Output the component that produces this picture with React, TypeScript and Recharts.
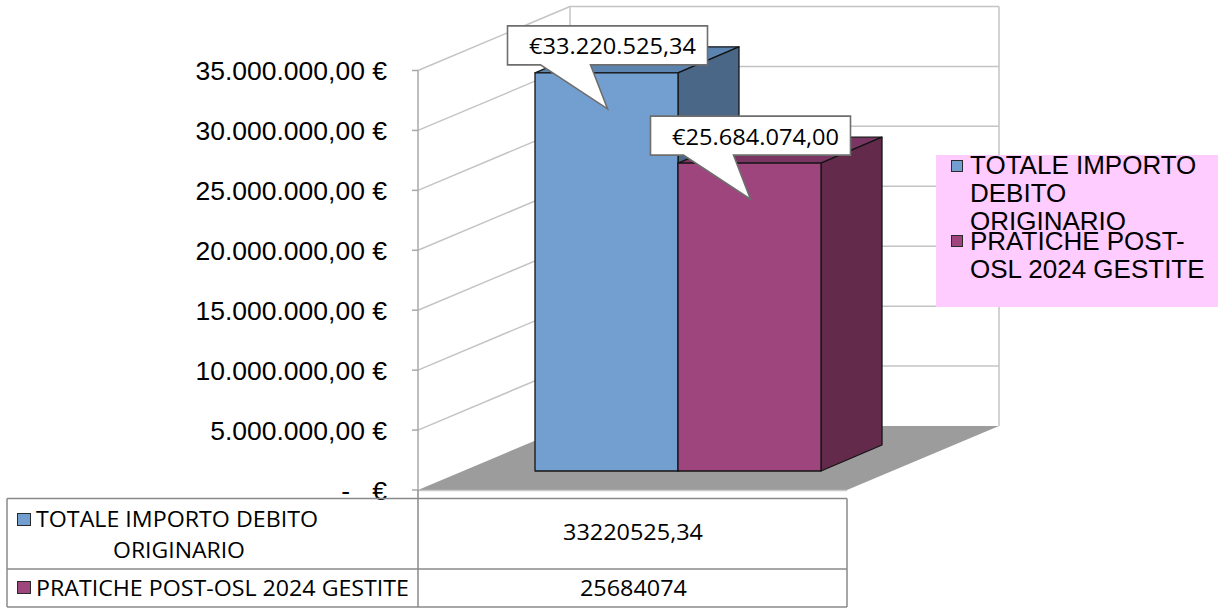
import React from 'react';
import { BarChart, Bar, XAxis, YAxis, CartesianGrid, Legend, LabelList } from 'recharts';

// ---------- data ----------
const CATEGORIES = ['Importi'];
const SERIES_KEYS = ['totale', 'pratiche'];
const SERIES_NAMES = ['TOTALE IMPORTO DEBITO ORIGINARIO', 'PRATICHE POST-OSL 2024 GESTITE'];
const TOTALE_VALUES = [33220525.34];
const PRATICHE_VALUES = [25684074];
const TICK_VALUES = [0, 5000000, 10000000, 15000000, 20000000, 25000000, 30000000, 35000000];
const TICK_LABELS = [
  '-   €',
  '5.000.000,00 €',
  '10.000.000,00 €',
  '15.000.000,00 €',
  '20.000.000,00 €',
  '25.000.000,00 €',
  '30.000.000,00 €',
  '35.000.000,00 €',
];
const TABLE_ROW_LINES = [['TOTALE IMPORTO DEBITO', 'ORIGINARIO'], ['PRATICHE POST-OSL 2024 GESTITE']];

const data = CATEGORIES.map((name, i) => ({
  name,
  totale: TOTALE_VALUES[i],
  pratiche: PRATICHE_VALUES[i],
}));

// ---------- styles / layout ----------
const W = 1218;
const H = 609;
const PLOT_LEFT = 418;
const PLOT_RIGHT = 847;
const PLOT_TOP = 70.5;
const PLOT_BOTTOM = 490;
const YAXIS_W = 218;
const WALL_DX = 152;
const WALL_DY = 64;
const BAR_DX = 45;
const BAR_DY = 19;
const DEPTH_DX = 61;
const DEPTH_DY = 26;
const WALL_STROKE = '#C4C4C4';
const ARIAL = '"Liberation Sans", Arial, sans-serif';
const CALIBRI = '"Open Sans", "Noto Sans", sans-serif';

const SERIES_STYLE = [
  { front: '#729FCF', top: '#5B84B1', side: '#4A6788' },
  { front: '#9E457E', top: '#7B3562', side: '#632A4C' },
];

const fmtIt = (v: number, dec: number) => {
  const [i, d] = v.toFixed(dec).split('.');
  const g = i.replace(/\B(?=(\d{3})+(?!\d))/g, '.');
  return d ? g + ',' + d : g;
};
const fmtTable = (v: number) => String(v).replace('.', ',');

// ---------- walls & floor drawn on the grid lines ----------
const renderWallLine = (props: any) => {
  const { x1, x2, y1, index } = props;
  const top = typeof props.y === 'number' ? props.y : PLOT_TOP;
  const bottom = typeof props.height === 'number' ? top + props.height : PLOT_BOTTOM;
  const bx1 = x1 + WALL_DX;
  const bx2 = x2 + WALL_DX;
  const by = y1 - WALL_DY;
  const isFloor = Math.abs(y1 - bottom) < 0.6;
  const isTop = Math.abs(y1 - top) < 0.6;
  return (
    <g key={`wall-${index}`}>
      {isFloor && (
        <polygon points={`${x1},${y1} ${x2},${y1} ${bx2},${by} ${bx1},${by}`} fill="#9C9C9C" />
      )}
      {isFloor && <line x1={x1} y1={y1 + 0.5} x2={x2} y2={y1 + 0.5} stroke="#C8C8C8" strokeWidth={1.5} />}
      {!isFloor && <line x1={x1} y1={y1} x2={bx1} y2={by} stroke={WALL_STROKE} strokeWidth={1.5} />}
      {!isFloor && <line x1={bx1} y1={by} x2={bx2} y2={by} stroke={WALL_STROKE} strokeWidth={1.5} />}
      {isTop && (
        <>
          <line x1={bx1} y1={by} x2={bx1} y2={bottom - WALL_DY} stroke={WALL_STROKE} strokeWidth={1.5} />
          <line x1={bx2} y1={by} x2={bx2} y2={bottom - WALL_DY} stroke={WALL_STROKE} strokeWidth={1.5} />
        </>
      )}
    </g>
  );
};

// ---------- axis tick ----------
const AxisTick = (props: any) => {
  const { x, y, payload } = props;
  const i = TICK_VALUES.indexOf(payload.value);
  return (
    <text
      x={x}
      y={y + 9.5}
      textAnchor="end"
      fontFamily={ARIAL}
      fontSize={26.5}
      fill="#000"
      style={{ whiteSpace: 'pre' }}
    >
      {TICK_LABELS[i]}
    </text>
  );
};

// ---------- 3D bar ----------
const make3DBar = (s: { front: string; top: string; side: string }) => (props: any) => {
  const { x, y, width, height } = props;
  if (width == null || height == null) return <g />;
  const fx = x + BAR_DX;
  const fy = y - BAR_DY;
  const w = width;
  const h = height;
  const edge = { stroke: '#151515', strokeWidth: 1.3, strokeLinejoin: 'round' as const };
  return (
    <g>
      <polygon
        points={`${fx},${fy} ${fx + w},${fy} ${fx + w + DEPTH_DX},${fy - DEPTH_DY} ${fx + DEPTH_DX},${fy - DEPTH_DY}`}
        fill={s.top}
        {...edge}
      />
      <polygon
        points={`${fx + w},${fy} ${fx + w + DEPTH_DX},${fy - DEPTH_DY} ${fx + w + DEPTH_DX},${fy + h - DEPTH_DY} ${fx + w},${fy + h}`}
        fill={s.side}
        {...edge}
      />
      <rect x={fx} y={fy} width={w} height={h} fill={s.front} {...edge} />
    </g>
  );
};

// ---------- callout ----------
const Callout = (props: any) => {
  const vb = props.viewBox || {};
  const x = typeof props.x === 'number' ? props.x : vb.x;
  const y = typeof props.y === 'number' ? props.y : vb.y;
  const width = typeof props.width === 'number' ? props.width : vb.width;
  const value = Number(props.value);
  if (x == null || y == null || width == null) return null;
  const cx = x + BAR_DX + width / 2;
  const top = y - BAR_DY;
  const L = cx - 99;
  const R = cx + 101;
  const T = top - 47;
  const B = top - 8;
  const d = `M${L},${T} H${R} V${B} H${cx - 16} L${cx + 1},${top + 36} L${cx - 66},${B} H${L} Z`;
  return (
    <g>
      <path d={d} fill="#FFFFFF" stroke="#6E6E6E" strokeWidth={1.6} strokeLinejoin="miter" />
      <text
        x={cx + 6}
        y={B - 10.5}
        textAnchor="middle"
        fontFamily={CALIBRI}
        fontSize={21}
        fill="#000"
        textLength={167}
        lengthAdjust="spacingAndGlyphs"
      >
        {'€' + fmtIt(value, 2)}
      </text>
    </g>
  );
};

// ---------- legend ----------
const LEGEND_TOPS = [-4, 72];
const LegendContent = (props: any) => {
  const payload: any[] = props.payload && props.payload.length ? props.payload : [];
  const items = SERIES_NAMES.map((name, i) => {
    const p = payload.find((e) => e && (e.value === name || e.dataKey === SERIES_KEYS[i]));
    return { name, color: p && p.color ? p.color : SERIES_STYLE[i].front };
  });
  return (
    <div
      style={{
        width: 282,
        height: 152,
        background: '#FFCCFF',
        position: 'relative',
        fontFamily: ARIAL,
        fontSize: 26,
        lineHeight: '28px',
        color: '#000',
      }}
    >
      {items.map((it, i) => (
        <div key={i} style={{ position: 'absolute', left: 34, top: LEGEND_TOPS[i], width: 248 }}>
          <span
            style={{
              position: 'absolute',
              left: -19,
              top: 9 - i,
              width: 10,
              height: 10,
              background: it.color,
              border: '1px solid #2A2A2A',
            }}
          />
          {it.name}
        </div>
      ))}
    </div>
  );
};

// ---------- data table ----------
const TABLE = { left: 7, mid: 418, right: 847, top: 498.5, rowDiv: 569, bottom: 607 };
const DataTable = () => {
  const values = [TOTALE_VALUES[0], PRATICHE_VALUES[0]];
  const lineStroke = { stroke: '#8A8A8A', strokeWidth: 1.5 };
  return (
    <svg
      width={W}
      height={H}
      style={{ position: 'absolute', left: 0, top: 0, pointerEvents: 'none' }}
    >
      <line x1={TABLE.left} y1={TABLE.top} x2={TABLE.right} y2={TABLE.top} {...lineStroke} />
      <line x1={TABLE.left} y1={TABLE.rowDiv} x2={TABLE.right} y2={TABLE.rowDiv} {...lineStroke} />
      <line x1={TABLE.left} y1={TABLE.bottom} x2={TABLE.right} y2={TABLE.bottom} {...lineStroke} />
      <line x1={TABLE.left} y1={TABLE.top} x2={TABLE.left} y2={TABLE.bottom} {...lineStroke} />
      <line x1={TABLE.mid} y1={PLOT_BOTTOM} x2={TABLE.mid} y2={TABLE.bottom} {...lineStroke} />
      <line x1={TABLE.right} y1={TABLE.top} x2={TABLE.right} y2={TABLE.bottom} {...lineStroke} />
      {/* row 1 */}
      <rect x={17.5} y={513.5} width={13} height={12} fill={SERIES_STYLE[0].front} stroke="#2A2A2A" strokeWidth={1} />
      <text x={36} y={527} fontFamily={CALIBRI} fontSize={21} fill="#000" textLength={282} lengthAdjust="spacingAndGlyphs">
        {TABLE_ROW_LINES[0][0]}
      </text>
      <text x={113} y={558} fontFamily={CALIBRI} fontSize={21} fill="#000" textLength={132} lengthAdjust="spacingAndGlyphs">
        {TABLE_ROW_LINES[0][1]}
      </text>
      <text x={633} y={540} textAnchor="middle" fontFamily={CALIBRI} fontSize={21} fill="#000" textLength={140} lengthAdjust="spacingAndGlyphs">
        {fmtTable(values[0])}
      </text>
      {/* row 2 */}
      <rect x={17.5} y={581.5} width={13} height={12} fill={SERIES_STYLE[1].front} stroke="#2A2A2A" strokeWidth={1} />
      <text x={36} y={596} fontFamily={CALIBRI} fontSize={21} fill="#000" textLength={373} lengthAdjust="spacingAndGlyphs">
        {TABLE_ROW_LINES[1][0]}
      </text>
      <text x={633.5} y={596} textAnchor="middle" fontFamily={CALIBRI} fontSize={21} fill="#000" textLength={107} lengthAdjust="spacingAndGlyphs">
        {fmtTable(values[1])}
      </text>
    </svg>
  );
};

export default function App() {
  return (
    <div style={{ position: 'absolute', left: 0, top: 0, width: W, height: H, background: '#FFFFFF' }}>
      <BarChart
        width={W}
        height={H}
        data={data}
        barGap={0}
        margin={{ top: PLOT_TOP, right: W - PLOT_RIGHT, bottom: H - PLOT_BOTTOM, left: PLOT_LEFT - YAXIS_W }}
      >
        <CartesianGrid horizontal={renderWallLine as any} vertical={false} />
        <XAxis dataKey="name" type="category" hide />
        <YAxis
          width={YAXIS_W}
          type="number"
          domain={[0, 35000000]}
          ticks={TICK_VALUES}
          interval={0}
          tickSize={6}
          tickMargin={25}
          axisLine={{ stroke: '#A8A8A8', strokeWidth: 1.5 }}
          tickLine={{ stroke: '#A8A8A8', strokeWidth: 1.5 }}
          tick={AxisTick as any}
        />
        <Legend
          layout="horizontal"
          align="center"
          verticalAlign="middle"
          width={282}
          height={152}
          wrapperStyle={{ position: 'absolute', left: 936, top: 155, width: 282, height: 152 }}
          content={LegendContent as any}
        />
        {SERIES_KEYS.map((k, i) => (
          <Bar
            key={k}
            dataKey={k}
            name={SERIES_NAMES[i]}
            fill={SERIES_STYLE[i].front}
            barSize={143}
            isAnimationActive={false}
            shape={make3DBar(SERIES_STYLE[i]) as any}
          >
            <LabelList dataKey={k} content={Callout as any} />
          </Bar>
        ))}
      </BarChart>
      <DataTable />
    </div>
  );
}
